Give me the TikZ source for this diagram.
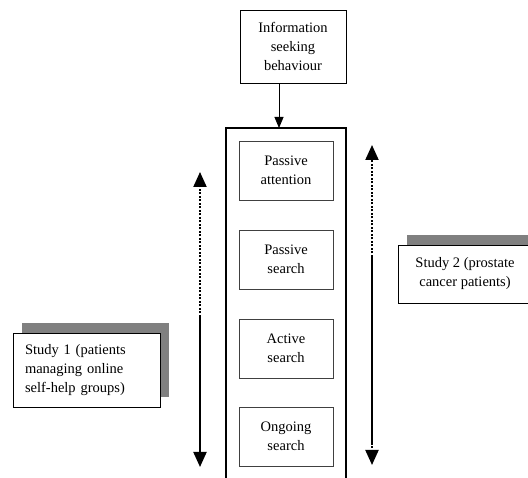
\documentclass[tikz,border=0pt]{standalone}
\usepackage{fontspec}
\setmainfont{Liberation Serif}
\usetikzlibrary{arrows.meta,shadows}

\begin{document}
\begin{tikzpicture}[x = 1pt, y = -1pt]
		\tikzstyle{every node} = [font = \fontsize{14.5}{19}\selectfont, inner sep = 0pt]
		\tikzstyle{stage} = [draw = black!75, line width = 0.9pt, minimum width = 94pt, minimum height = 59pt, align = center]
		\tikzstyle{study} = [draw = black, line width = 0.9pt, fill = white, minimum height = 58pt,
			drop shadow = {shadow xshift = 9pt, shadow yshift = 10pt, fill = gray, opacity = 1}]
		\tikzstyle{spanarrow} = [line width = 2pt, -{Triangle[width = 13pt, length = 15pt]}]
		\tikzstyle{dotline} = [dash pattern = on 2pt off 1.5pt]

\useasboundingbox (0,0) rectangle (528,478);

% Kopf
\node[draw = black, line width = 0.9pt, minimum width = 106pt, minimum height = 73pt, align = center]
	(info) at (293,46.5) {Information\\seeking\\behaviour};

% Saeule
\coordinate (coltop) at (279,128);
\draw[line width = 1.8pt]
	(226,478) -- (226,128) -- (346,128) -- (346,478);
\draw[line width = 0.9pt, -{Triangle[width = 9pt, length = 11pt]}]
	(info.south -| coltop) -- (coltop);

% Stufen
\node[stage] (attention) at (286,170.5) {Passive\\attention};
\node[stage] (psearch) at (286,259.5) {Passive\\search};
\node[stage] (asearch) at (286,348.5) {Active\\search};
\node[stage] (ongoing) at (286,436.5) {Ongoing\\search};

% Pfeile links
\coordinate (ltop) at (200,172);
\coordinate (lmid) at (200,317);
\coordinate (lbot) at (200,467);
\draw[spanarrow, dotline] (lmid) -- (ltop);
\draw[spanarrow] (lmid) -- (lbot);

% Pfeile rechts
\coordinate (rtop) at (372,145);
\coordinate (rmid) at (372,257);
\coordinate (rlow) at (372,443);
\coordinate (rbot) at (372,465);
\draw[spanarrow, dotline] (rmid) -- (rtop);
\draw[line width = 2pt] (rmid) -- (rlow);
\draw[spanarrow, dotline] (rlow) -- (rbot);

% Studien
\node[study, minimum width = 147pt, minimum height = 74pt, align = left, text width = 123pt]
	(study1) at (86.5,370) {Study 1 (patients\\managing online\\self-help groups)};
\node[study, minimum width = 134pt, align = center]
	(study2) at (465,274) {Study 2 (prostate\\cancer patients)};

	\end{tikzpicture}
\end{document}
